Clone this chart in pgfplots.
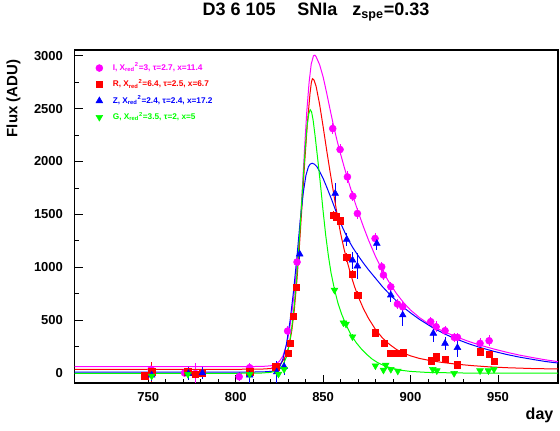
\documentclass[border=0pt]{standalone}
\usepackage{fontspec}
\setmainfont{Liberation Sans}
\usepackage{pgfplots}
\pgfplotsset{compat=1.18}
\definecolor{cI}{RGB}{255,0,255}
\definecolor{cR}{RGB}{255,0,0}
\definecolor{cZ}{RGB}{0,0,255}
\definecolor{cG}{RGB}{0,255,0}
\begin{document}
\begin{tikzpicture}
\path[use as bounding box] (0,0) rectangle (420pt,323.25pt);
\begin{axis}[
  at={(56.03pt,36pt)}, anchor=south west,
  scale only axis, width=362.5pt, height=249.75pt,
  xmin=708, xmax=984.3, ymin=-94.5, ymax=3054,
  xtick={750,800,850,900,950}, minor x tick num=4,
  ytick={0,500,...,3000}, minor y tick num=1,
  tick align=inside, xtick pos=bottom, ytick pos=left,
  major tick length=6pt, minor tick length=3pt,
  tick style={black, line width=0.6pt},
  axis line style={line width=0.9pt},
  tick label style={font=\bfseries\fontsize{9.75}{10}\selectfont},
  xticklabel style={yshift=-3.2pt},
  yticklabel style={xshift=-5.3pt},
  /pgf/number format/assume math mode=true,
  /pgf/number format/1000 sep={},
  error bars/y dir=both, error bars/y explicit,
  error bars/error mark=none,
  legend cell align=left,
  legend style={at={(axis description cs:0.035,0.969)}, anchor=north west,
    draw=none, fill=none, font=\bfseries\fontsize{6.2}{7}\selectfont,
    row sep=5.1pt, nodes={inner sep=0.5pt, text height=4.8pt, text depth=1.4pt}},
]
% ---- I (magenta)
\addplot[only marks, mark=*, mark size=2.6pt, color=cI,
  error bars/error bar style={cI, line width=0.75pt}]
  coordinates {
  (751.7,35) +- (0,40)
  (770.8,0) +- (0,40)
  (777,-5) +- (0,100)
  (802,-35) +- (0,45)
  (808,50) +- (0,45)
  (822.6,47) +- (0,45)
  (829.7,397) +- (0,50)
  (835.1,1049) +- (0,60)
  (855.5,2311) +- (0,55)
  (859.7,2113) +- (0,55)
  (863.9,1854) +- (0,55)
  (867,1672) +- (0,50)
  (869.6,1508) +- (0,50)
  (879.7,1272) +- (0,55)
  (883.5,1004) +- (0,50)
  (884.5,926) +- (0,50)
  (888.7,815) +- (0,50)
  (892.5,652) +- (0,45)
  (895.5,626) +- (0,45)
  (911.5,485) +- (0,45)
  (914.6,437) +- (0,50)
  (919.7,400) +- (0,45)
  (925,337) +- (0,45)
  (926.8,337) +- (0,45)
  (939.7,280) +- (0,50)
  (944.9,305) +- (0,50)
  };
\addlegendentry{\hspace*{7pt}\textcolor{cI}{I, X\textsubscript{red}\textsuperscript{2}=3, τ=2.7, x=11.4}}
% ---- R (red)
\addplot[only marks, mark=square*, mark size=2.4pt, color=cR,
  error bars/error bar style={cR, line width=0.75pt}]
  coordinates {
  (748,-28) +- (0,30)
  (752,10) +- (0,95)
  (772.7,12) +- (0,30)
  (776.9,-12) +- (0,30)
  (781,-3) +- (0,30)
  (808,12) +- (0,30)
  (823,60) +- (0,30)
  (830.2,186) +- (0,30)
  (831.1,280) +- (0,30)
  (832.9,539) +- (0,35)
  (834.6,813) +- (0,35)
  (855.9,1492) +- (0,40)
  (857.4,1476) +- (0,40)
  (859.7,1438) +- (0,40)
  (863.5,1093) +- (0,40)
  (866.8,935) +- (0,35)
  (869.8,737) +- (0,35)
  (879.9,381) +- (0,35)
  (884.9,280) +- (0,35)
  (888.7,186) +- (0,30)
  (892.7,186) +- (0,30)
  (895.9,192) +- (0,30)
  (911.7,116) +- (0,30)
  (914.6,154) +- (0,30)
  (919.7,132) +- (0,30)
  (926.8,76) +- (0,30)
  (939.7,201) +- (0,30)
  (944.9,179) +- (0,30)
  (947.7,113) +- (0,30)
  };
\addlegendentry{\hspace*{7pt}\textcolor{cR}{R, X\textsubscript{red}\textsuperscript{2}=6.4, τ=2.5, x=6.7}}
% ---- Z (blue)
\addplot[only marks, mark=triangle*, mark size=2.9pt, color=cZ,
  error bars/error bar style={cZ, line width=0.75pt}]
  coordinates {
  (752,-20) +- (0,60)
  (773,-5) +- (0,60)
  (781,0) +- (0,60)
  (808,-20) +- (0,80)
  (823.5,10) +- (0,100)
  (827.7,60) +- (0,80)
  (836.6,1124) +- (0,70)
  (856.9,1697) +- (0,95)
  (863.5,1263) +- (0,60)
  (866.8,1067) +- (0,80)
  (869.6,1011) +- (0,125)
  (880.7,1225) +- (0,65)
  (888.7,737) +- (0,70)
  (895.5,548) +- (0,100)
  (913,375) +- (0,80)
  (919.7,280) +- (0,65)
  (926.8,240) +- (0,85)
  };
\addlegendentry{\hspace*{7pt}\textcolor{cZ}{Z, X\textsubscript{red}\textsuperscript{2}=2.4, τ=2.4, x=17.2}}
% ---- G (green)
\addplot[only marks, mark=triangle*, mark size=2.9pt, mark options={rotate=180}, color=cG,
  error bars/error bar style={cG, line width=0.75pt}]
  coordinates {
  (752,-28) +- (0,20)
  (772.7,-12) +- (0,20)
  (808,-12) +- (0,20)
  (824.5,-9) +- (0,20)
  (827.7,35) +- (0,20)
  (856.5,784) +- (0,30)
  (861.6,475) +- (0,25)
  (863.1,463) +- (0,25)
  (866.8,343) +- (0,25)
  (879.9,69) +- (0,20)
  (884.5,28) +- (0,20)
  (885.8,76) +- (0,20)
  (888.7,35) +- (0,20)
  (892.7,19) +- (0,20)
  (912.7,35) +- (0,20)
  (915,22) +- (0,20)
  (924.9,-3) +- (0,20)
  (939.7,22) +- (0,20)
  (944.5,22) +- (0,20)
  (947.7,35) +- (0,20)
  };
\addlegendentry{\hspace*{7pt}\textcolor{cG}{G, X\textsubscript{red}\textsuperscript{2}=3.5, τ=2, x=5}}
% ---- fitted curves
\addplot[cI, line width=0.75pt, no markers, forget plot] coordinates {
(708,60)(800,60)(815,62)(820,68)(823,85)(825,110)(827,160)(829,260)(830.5,380)(832,550)(833.5,760)(835,1010)(836.5,1300)(838,1710)(839.5,2150)(840.7,2480)(842,2750)(843.2,2920)(844.5,3000)(845.3,3005)(846,2990)(848,2915)(850,2800)(852,2650)(854,2490)(856,2335)(858,2195)(860,2070)(862,1950)(864,1838)(866,1730)(868,1625)(870,1525)(873,1385)(876,1255)(880,1100)(884,965)(888,850)(892,750)(896,665)(900,595)(905,525)(910,468)(915,422)(920,385)(926,343)(933,300)(940,262)(948,225)(955,196)(962,170)(970,145)(977,125)(984.3,107)};
\addplot[cR, line width=0.75pt, no markers, forget plot] coordinates {
(708,35)(800,35)(815,37)(820,42)(823,55)(825,75)(827,115)(829,175)(830.5,255)(832,390)(833.5,590)(835,870)(836.5,1210)(838,1600)(839.5,2000)(841,2360)(842.5,2640)(843.3,2750)(843.9,2783)(844.8,2770)(846,2710)(848,2540)(850,2330)(852,2110)(854,1900)(856,1700)(858,1500)(860,1320)(862,1170)(864,1040)(866,920)(868,815)(870,725)(873,610)(876,515)(880,410)(884,330)(888,270)(892,222)(896,188)(900,162)(905,138)(911,118)(918,100)(926,84)(935,70)(945,58)(955,50)(970,42)(984.3,38)};
\addplot[cZ, line width=0.75pt, no markers, forget plot] coordinates {
(708,8)(800,8)(815,10)(820,15)(823,22)(825,50)(827,130)(829,270)(831,480)(833,760)(835,1090)(836.9,1440)(838.7,1710)(840.2,1870)(841.6,1950)(842.6,1975)(843.7,1983)(845,1975)(846.5,1950)(848,1905)(850,1840)(852,1760)(855,1634)(858,1500)(861,1380)(864.5,1256)(867,1185)(870,1110)(873,1040)(876,975)(880,895)(884,815)(888,745)(892,680)(896,620)(900,568)(905,508)(913,425)(920,365)(926,322)(933,278)(940,240)(948,203)(955,175)(962,151)(970,128)(977,109)(984.3,94)};
\addplot[cG, line width=0.75pt, no markers, forget plot] coordinates {
(708,-3)(800,-3)(815,0)(820,6)(823,18)(825,35)(827,75)(829,150)(830.5,255)(832,420)(833.5,640)(835,930)(836.5,1280)(838,1680)(839.5,2060)(840.8,2330)(841.8,2450)(842.6,2490)(843.4,2470)(844.3,2390)(845.5,2230)(847,2010)(848.5,1780)(850,1530)(851.5,1300)(853,1110)(854.5,950)(856.5,790)(858.5,660)(860.5,560)(863,460)(866,360)(869,285)(872,225)(875,175)(878,132)(881,100)(885,68)(890,42)(895,25)(900,15)(910,5)(930,0)(984.3,0)};
\end{axis}
\node[anchor=base] at (237pt,311.25pt) {\bfseries\fontsize{13.5}{15}\selectfont D3 6 105\hspace{16.3pt}SNIa\hspace{11.25pt}z\textsubscript{spe}=0.33};
\node[rotate=90, anchor=east] at (10.1pt,282pt) {\bfseries\fontsize{11.25}{13}\selectfont Flux (ADU)};
\node[anchor=base east] at (418.5pt,8.25pt) {\bfseries\fontsize{12}{14}\selectfont day};
\end{tikzpicture}
\end{document}
